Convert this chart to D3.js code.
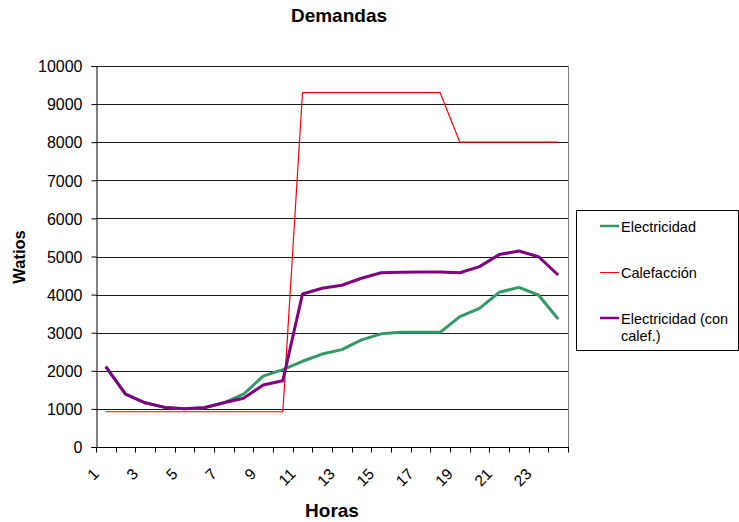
<!DOCTYPE html>
<html lang="es">
<head>
<meta charset="utf-8">
<title>Demandas</title>
<script src="https://d3js.org/d3.v7.min.js"></script>
<style>
  body { margin: 0; background: #fff; }
  text { font-family: "Liberation Sans", Arial, sans-serif; fill: #000; }
</style>
</head>
<body>
<script>
// horas del día
var horas = d3.range(1, 25);
var xTickLabels = [1, 3, 5, 7, 9, 11, 13, 15, 17, 19, 21, 23];
var yTicks = [0, 1000, 2000, 3000, 4000, 5000, 6000, 7000, 8000, 9000, 10000];

// series (W)
var electricidad = [2100, 1390, 1160, 1040, 1005, 1030, 1160, 1385, 1860, 2030,
                    2250, 2440, 2555, 2810, 2970, 3010, 3010, 3010, 3420, 3640,
                    4060, 4190, 3990, 3360];
var calefaccion = [925, 925, 925, 925, 925, 925, 925, 925, 925, 925,
                   9300, 9300, 9300, 9300, 9300, 9300, 9300, 9300,
                   8000, 8000, 8000, 8000, 8000, 8000];
var electricidadCon = [2110, 1390, 1160, 1040, 1005, 1030, 1160, 1280, 1625, 1740,
                       4015, 4165, 4245, 4430, 4575, 4585, 4590, 4590, 4575, 4735,
                       5050, 5145, 4995, 4515];

var series = [
  { name: "Electricidad", values: electricidad, color: "#339966", width: 3 },
  { name: "Calefacción", values: calefaccion, color: "#ff0000", width: 1.2 },
  { name: "Electricidad (con calef.)", values: electricidadCon, color: "#800080", width: 3 }
];

var w = 739, h = 522;
var plotLeft = 96, plotRight = 568, plotTop = 66, plotBottom = 447;

var svg = d3.select("body").append("svg")
  .attr("width", w).attr("height", h);

var x = d3.scaleBand().domain(horas).range([plotLeft, plotRight]);
var y = d3.scaleLinear().domain([0, 10000]).range([plotBottom, plotTop]);

// rejilla
svg.append("g").selectAll("line")
  .data(yTicks.filter(function(d) { return d > 0; }))
  .enter().append("line")
  .attr("x1", plotLeft).attr("x2", plotRight)
  .attr("y1", function(d) { return Math.round(y(d)) + 0.5; })
  .attr("y2", function(d) { return Math.round(y(d)) + 0.5; })
  .attr("stroke", "#1a1a1a").attr("stroke-width", 1);

// borde derecho del área
svg.append("line")
  .attr("x1", plotRight + 0.5).attr("x2", plotRight + 0.5)
  .attr("y1", plotTop).attr("y2", plotBottom)
  .attr("stroke", "#808080");

// eje Y
var yAxis = svg.append("g").attr("transform", "translate(" + (plotLeft + 0.5) + ",0)")
  .call(d3.axisLeft(y).tickValues(yTicks).tickFormat(d3.format("d"))
    .tickSize(5).tickPadding(9));
yAxis.selectAll("path, line").attr("stroke", "#000");
yAxis.selectAll("text").attr("font-size", "16px").attr("dy", "0.36em")
  .style("font-family", "'Liberation Sans', Arial, sans-serif");

// eje X
var xAxis = svg.append("g").attr("transform", "translate(0," + (plotBottom + 0.5) + ")");
xAxis.append("line").attr("x1", plotLeft).attr("x2", plotRight + 1).attr("stroke", "#000");
xAxis.selectAll("line.tick")
  .data(horas.concat([25]))
  .enter().append("line")
  .attr("class", "tick")
  .attr("x1", function(d) { return Math.round(d === 25 ? plotRight : x(d)) + 0.5; })
  .attr("x2", function(d) { return Math.round(d === 25 ? plotRight : x(d)) + 0.5; })
  .attr("y1", 0).attr("y2", 5).attr("stroke", "#000");
svg.append("g").selectAll("text")
  .data(xTickLabels)
  .enter().append("text")
  .attr("transform", function(d) {
    return "translate(" + (x(d) + x.bandwidth() / 2 - 6) + "," + 475 + ") rotate(-45)";
  })
  .attr("text-anchor", "end")
  .attr("font-size", "15.5px")
  .text(function(d) { return d; });

// líneas
var line = d3.line()
  .x(function(d, i) { return x(horas[i]) + x.bandwidth() / 2; })
  .y(function(d) { return y(d); });

svg.append("g").selectAll("path")
  .data(series)
  .enter().append("path")
  .attr("d", function(s) { return line(s.values); })
  .attr("fill", "none")
  .attr("stroke", function(s) { return s.color; })
  .attr("stroke-width", function(s) { return s.width; })
  .attr("stroke-linejoin", "round");

// títulos
svg.append("text").attr("x", 339).attr("y", 21.5)
  .attr("text-anchor", "middle").attr("font-weight", "bold").attr("font-size", "19px")
  .text("Demandas");
svg.append("text").attr("x", 332).attr("y", 517)
  .attr("text-anchor", "middle").attr("font-weight", "bold").attr("font-size", "19px")
  .text("Horas");
svg.append("text").attr("transform", "translate(25,257) rotate(-90)")
  .attr("text-anchor", "middle").attr("font-weight", "bold").attr("font-size", "16.5px")
  .text("Watios");

// leyenda
var legend = svg.append("g");
legend.append("rect")
  .attr("x", 576.5).attr("y", 210.5).attr("width", 162).attr("height", 140)
  .attr("fill", "#fff").attr("stroke", "#000");
var legendY = [226, 272.5, 318];
series.forEach(function(s, i) {
  legend.append("line")
    .attr("x1", 600).attr("x2", 619)
    .attr("y1", legendY[i]).attr("y2", legendY[i])
    .attr("stroke", s.color).attr("stroke-width", s.width === 3 ? 2.5 : 1);
});
legend.append("text").attr("x", 621).attr("y", 232)
  .attr("font-size", "14.5px").text("Electricidad");
legend.append("text").attr("x", 621).attr("y", 278)
  .attr("font-size", "14.5px").text("Calefacción");
var t3 = legend.append("text").attr("font-size", "14.5px");
t3.append("tspan").attr("x", 621).attr("y", 324).text("Electricidad (con");
t3.append("tspan").attr("x", 621).attr("y", 341).text("calef.)");
</script>
</body>
</html>
